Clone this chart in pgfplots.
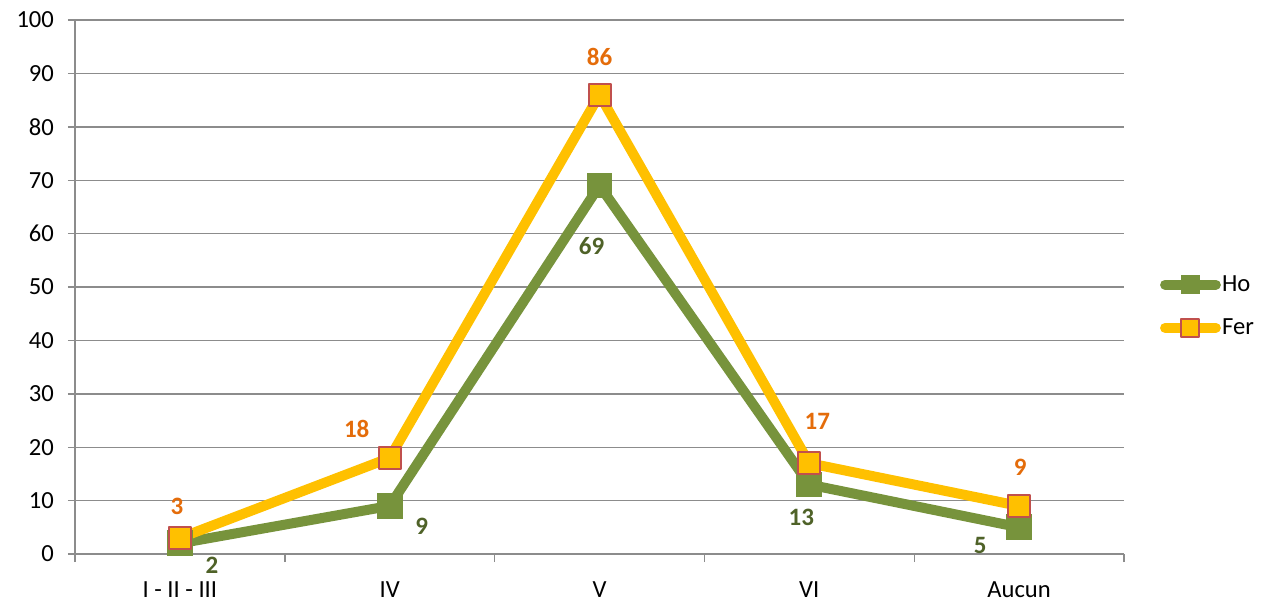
\documentclass[border=0pt]{standalone}
\usepackage{pgfplots}
\pgfplotsset{compat=1.18}
\usepackage{pgfplotstable}
\usepackage{fontspec}
\setmainfont{Carlito}
\definecolor{hoGreen}{HTML}{77933C}
\definecolor{hoDark}{HTML}{4F6228}
\definecolor{ferYellow}{HTML}{FFC000}
\definecolor{ferRed}{HTML}{C0504D}
\definecolor{ferOrange}{HTML}{E46C0A}
\definecolor{gridGray}{HTML}{8C8C8C}

\pgfplotstableread{
x y dx dy
0 2 16 -11
1 9 16 -10
2 69 -4 -30.5
3 13 -4 -16.5
4 5 -19.5 -9
}\hodata
\pgfplotstableread{
x y dx dy
0 3 -1.5 16
1 18 -16.5 14.5
2 86 0 19
3 17 4 21
4 9 0.5 19.5
}\ferdata

\begin{document}
\begin{tikzpicture}
\begin{axis}[
  scale only axis,
  width=524.5pt, height=267pt,
  xmin=-0.5, xmax=4.5,
  ymin=0, ymax=100,
  axis x line*=bottom, axis y line*=left,
  axis line style={draw=gridGray, line width=0.7pt, -},
  xtick={0,1,2,3,4},
  xticklabels={I - II - III, IV, V, VI, Aucun},
  minor xtick={-0.5,0.5,1.5,2.5,3.5,4.5},
  major x tick style={draw=none},
  minor tick length=4pt,
  minor x tick style={draw=gridGray, line width=0.7pt},
  xtick align=outside,
  ytick={0,10,...,100},
  ytick align=outside,
  major tick length=3.5pt,
  y tick style={draw=gridGray, line width=0.7pt},
  ymajorgrids,
  grid style={draw=gridGray, line width=0.7pt},
  tick label style={font=\fontsize{12.3}{14}\selectfont, text=black},
  xticklabel style={yshift=-6.8pt},
  yticklabel style={xshift=-3.5pt},
  /pgf/number format/assume math mode=true,
  clip=false,
  legend style={draw=none, fill=none, at={(1.034,0.464)}, anchor=west,
    inner sep=0pt, row sep=11pt, font=\fontsize{12.3}{14}\selectfont,
    cells={anchor=west}, nodes={inner sep=0.6pt}},
  legend image code/.code={
    \draw[#1, line cap=round, mark size=4.5pt, mark repeat=2, mark phase=2] plot coordinates {(2.3pt,0pt) (15pt,0pt) (27.7pt,0pt)};
  },
  nodes near coords={\pgfmathprintnumber{\pgfplotspointmeta}},
  point meta=explicit,
  visualization depends on={\thisrow{dx} \as \ddx},
  visualization depends on={\thisrow{dy} \as \ddy},
  nodes near coords style={anchor=center, xshift=\ddx pt, yshift=\ddy pt,
    font=\fontsize{12.5}{14}\bfseries},
]
\addplot[hoGreen, line width=5pt, line join=round, mark=square*, mark size=6.2pt,
  mark options={fill=hoGreen, draw=hoGreen, line width=0pt},
  nodes near coords style={text=hoDark}]
  table[x=x, y=y, meta=y] {\hodata};
\addlegendentry{Ho}
\addplot[ferYellow, line width=5pt, line join=round, mark=square*, mark size=5.5pt,
  mark options={fill=ferYellow, draw=ferRed, line width=1pt},
  nodes near coords style={text=ferOrange}]
  table[x=x, y=y, meta=y] {\ferdata};
\addlegendentry{Fer}
\coordinate (sw) at (rel axis cs:0,0);
\coordinate (ne) at (rel axis cs:1,1);
\end{axis}
\pgfresetboundingbox
\path[use as bounding box] ([xshift=-37.5pt,yshift=-24pt]sw) rectangle ([xshift=72.5pt,yshift=10pt]ne);
\end{tikzpicture}
\end{document}
